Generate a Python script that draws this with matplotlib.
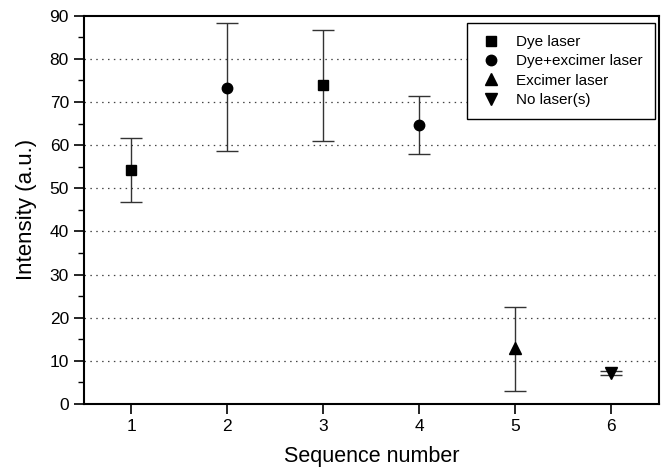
import matplotlib
matplotlib.use("Agg")
import matplotlib.pyplot as plt
from matplotlib.ticker import MultipleLocator

plt.rcParams["font.family"] = ["Liberation Sans", "DejaVu Sans"]

# Sequence data
sequence = [1, 2, 3, 4, 5, 6]
intensity = [54.2, 73.3, 73.9, 64.6, 12.9, 7.1]
err_low = [46.8, 58.6, 61.0, 58.0, 2.9, 6.7]
err_high = [61.6, 88.2, 86.6, 71.3, 22.4, 7.6]
condition = ["Dye laser", "Dye+excimer laser", "Dye laser",
             "Dye+excimer laser", "Excimer laser", "No laser(s)"]

markers = {"Dye laser": "s", "Dye+excimer laser": "o",
           "Excimer laser": "^", "No laser(s)": "v"}
sizes = {"Dye laser": 7, "Dye+excimer laser": 7.5,
         "Excimer laser": 8.5, "No laser(s)": 8.5}

fig = plt.figure(figsize=(6.64, 4.70), dpi=100)
ax = fig.add_axes([0.1258, 0.1404, 0.8667, 0.8262])

seen = set()
for x, y, lo, hi, cond in zip(sequence, intensity, err_low, err_high, condition):
    ax.errorbar([x], [y], yerr=[[y - lo], [hi - y]], fmt="none",
                ecolor="#333333", elinewidth=1.0, capsize=8, capthick=1.0, zorder=3)
    label = cond if cond not in seen else None
    seen.add(cond)
    ax.plot([x], [y], linestyle="none", marker=markers[cond],
            markersize=sizes[cond], color="black", label=label, zorder=4)

ax.set_xlim(0.5, 6.5)
ax.set_ylim(0, 90)
ax.set_xticks(sequence)
ax.yaxis.set_major_locator(MultipleLocator(10))
ax.yaxis.set_minor_locator(MultipleLocator(5))
ax.tick_params(axis="both", which="major", direction="out", length=7, width=1.2,
               labelsize=12.5)
ax.tick_params(axis="y", which="minor", direction="out", length=4, width=1.0)

for y in range(10, 90, 10):
    ax.axhline(y, color="#444444", linestyle=(0, (1.2, 3.5)), linewidth=0.9, zorder=1)

for spine in ax.spines.values():
    spine.set_linewidth(1.5)

ax.set_xlabel("Sequence number", fontsize=15.5, labelpad=9)
ax.set_ylabel("Intensity (a.u.)", fontsize=16, labelpad=9)

leg = ax.legend(loc="upper right", bbox_to_anchor=(0.993, 0.982), fontsize=11,
                frameon=True, fancybox=False, edgecolor="black", framealpha=1,
                borderaxespad=0, handletextpad=0.9, labelspacing=0.35,
                borderpad=0.8, handlelength=1.5)
leg.get_frame().set_linewidth(1.0)

fig.savefig("out.png", dpi=100)
